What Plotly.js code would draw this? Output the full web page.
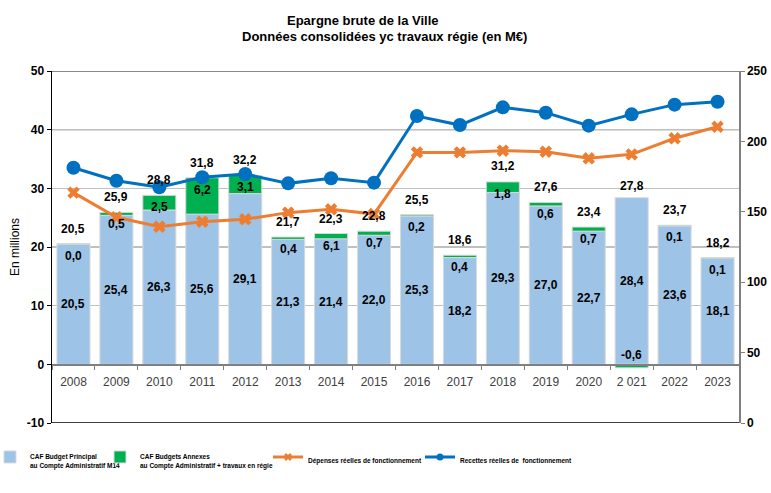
<!DOCTYPE html>
<html>
<head>
<meta charset="utf-8">
<script src="https://cdn.plot.ly/plotly-3.0.1.min.js"></script>
<style>html,body{margin:0;padding:0;background:#fff;}#chart{width:771px;height:493px;}</style>
</head>
<body>
<div id="chart"></div>
<script>
const years = ['2008','2009','2010','2011','2012','2013','2014','2015','2016','2017','2018','2019','2020','2 021','2022','2023'];
const principal = [20.5,25.4,26.3,25.6,29.1,21.3,21.4,22.0,25.3,18.2,29.3,27.0,22.7,28.4,23.6,18.1];
const annexes = [0.04,0.5,2.5,6.2,3.1,0.4,0.9,0.7,0.2,0.4,1.8,0.6,0.7,-0.6,0.1,0.1];
const annexLabels = [0.0,0.5,2.5,6.2,3.1,0.4,6.1,0.7,0.2,0.4,1.8,0.6,0.7,-0.6,0.1,0.1];
const totals = [20.5,25.9,28.8,31.8,32.2,21.7,22.3,22.8,25.5,18.6,31.2,27.6,23.4,27.8,23.7,18.2];
const depenses = [163.6,146.1,139.4,143.0,144.7,149.4,151.8,148.4,192.2,192.2,193.4,192.7,188.0,190.8,202.2,210.4];
const recettes = [181.3,172.1,167.4,174.5,176.8,170.2,173.8,170.7,218.0,211.6,224.2,220.4,211.2,219.2,226.1,228.2];
const leftTicks = [-10,0,10,20,30,40,50];
const leftTickText = ['-10','0','10','20','30','40','50'];
const rightTicks = [0,50,100,150,200,250];

const fmt = v => v.toFixed(1).replace('.', ',');
const FONT = 'Liberation Sans, Arial, sans-serif';

const traces = [
  {type:'bar', name:'CAF Budget Principal<br>au Compte Administratif M14', x:years, y:principal, legend:'legend',
   marker:{color:'#9DC3E6', line:{color:'#d9d9d9', width:1}}, hoverinfo:'skip'},
  {type:'bar', name:'CAF Budgets Annexes<br>au Compte Administratif + travaux en régie', x:years, y:annexes, legend:'legend2',
   marker:{color:'#00B050', line:{color:'#d9d9d9', width:1}}, hoverinfo:'skip'},
  {type:'scatter', mode:'lines+markers', name:'Dépenses réelles de fonctionnement', x:years, y:depenses, yaxis:'y2',
   line:{color:'#ED7D31', width:3}, marker:{symbol:'x', size:11, color:'#ED7D31'}, showlegend:false, legendgroup:'dep'},
  {type:'scatter', mode:'lines+markers', name:'Recettes réelles de  fonctionnement', x:years, y:recettes, yaxis:'y2',
   line:{color:'#0070C0', width:3}, marker:{symbol:'circle', size:14, color:'#0070C0'}, showlegend:false, legendgroup:'rec'},
  // legend entries with smaller symbols
  {type:'scatter', mode:'lines+markers', name:'Dépenses réelles de fonctionnement', x:[null], y:[null], yaxis:'y2', legend:'legend3',
   line:{color:'#ED7D31', width:3}, marker:{symbol:'x', size:7, color:'#ED7D31'}, legendgroup:'dep'},
  {type:'scatter', mode:'lines+markers', name:'Recettes réelles de  fonctionnement', x:[null], y:[null], yaxis:'y2', legend:'legend4',
   line:{color:'#0070C0', width:3}, marker:{symbol:'circle', size:7, color:'#0070C0'}, legendgroup:'rec'}
];

const annotations = [];
const lblFont = {family:FONT, size:12, color:'#000', weight:'bold'};
years.forEach((yr, i) => {
  annotations.push({x:i, y:principal[i]/2, xref:'x', yref:'y', text:fmt(principal[i]), showarrow:false, font:lblFont});
  if (annexes[i] >= 0) {
    annotations.push({x:i, y:principal[i]+annexes[i], xref:'x', yref:'y', yshift:-12, text:fmt(annexLabels[i]), showarrow:false, font:lblFont});
  } else {
    annotations.push({x:i, y:0, xref:'x', yref:'y', yshift:9, text:fmt(annexLabels[i]), showarrow:false, font:lblFont});
  }
  annotations.push({x:i, y:totals[i], xref:'x', yref:'y', yshift:15, text:fmt(totals[i]), showarrow:false, font:lblFont});
});
annotations.push({x:(362-52)/687, y:1, xref:'paper', yref:'paper', xanchor:'center', yanchor:'middle', yshift:51,
  text:'Epargne brute de la Ville', showarrow:false, font:{family:FONT, size:13, color:'#000', weight:'bold'}});
annotations.push({x:(384-52)/687, y:1, xref:'paper', yref:'paper', xanchor:'center', yanchor:'middle', yshift:35,
  text:'Données consolidées yc travaux régie (en M€)', showarrow:false, font:{family:FONT, size:13, color:'#000', weight:'bold'}});

const legFont = {family:FONT, size:6.5, color:'#000', weight:'bold'};
const mkLegend = px => ({x:(px-52)/687, y:-0.066, xanchor:'left', yanchor:'top', valign:'top', itemwidth:30,
  bgcolor:'rgba(0,0,0,0)', font:legFont});

const layout = {
  width:771, height:493,
  margin:{l:52, r:32, t:71, b:70, autoexpand:false},
  paper_bgcolor:'#fff', plot_bgcolor:'#fff',
  barmode:'relative', bargap:0.23,
  showlegend:true,
  legend:mkLegend(-10), legend2:mkLegend(100), legend3:mkLegend(268), legend4:mkLegend(420),
  xaxis:{type:'category', categoryorder:'array', categoryarray:years, range:[-0.5, years.length-0.5],
         anchor:'free', position:1/6, showline:true, linecolor:'#808080', linewidth:1.5, automargin:false,
         ticks:'outside', tickson:'boundaries', ticklen:4, tickcolor:'#808080', tickangle:0, ticklabelstandoff:6,
         tickfont:{family:FONT, size:12, color:'#404040'}, showgrid:false, fixedrange:true},
  yaxis:{range:[-10,50], tickmode:'array', tickvals:leftTicks, ticktext:leftTickText, automargin:false,
         showline:true, linecolor:'#000', linewidth:1.5, ticks:'outside', ticklen:4, tickcolor:'#000',
         gridcolor:'#c0c0c0', gridwidth:1.5, zeroline:false,
         tickfont:{family:FONT, size:12, color:'#000', weight:'bold'},
         title:{text:'En millions', font:{family:FONT, size:12, color:'#000'}, standoff:4}},
  yaxis2:{range:[0,250], tickmode:'array', tickvals:rightTicks, overlaying:'y', side:'right', anchor:'x', automargin:false,
          showline:true, linecolor:'#808080', linewidth:1.5,
          ticks:'outside', ticklen:4, tickcolor:'#808080', showgrid:false, zeroline:false,
          tickfont:{family:FONT, size:12, color:'#000', weight:'bold'}},
  shapes:[
    {type:'line', xref:'paper', yref:'y', x0:0, x1:1, y0:40, y1:40, line:{color:'#1a1a1a', width:1}, layer:'below'},
    {type:'line', xref:'paper', yref:'y', x0:0, x1:1, y0:50, y1:50, line:{color:'#606060', width:1.5}},
    {type:'line', xref:'paper', yref:'y', x0:0, x1:1, y0:-10, y1:-10, line:{color:'#000', width:1.5}}
  ],
  annotations:annotations
};

Plotly.newPlot('chart', traces, layout, {displayModeBar:false, staticPlot:true});
</script>
</body>
</html>
